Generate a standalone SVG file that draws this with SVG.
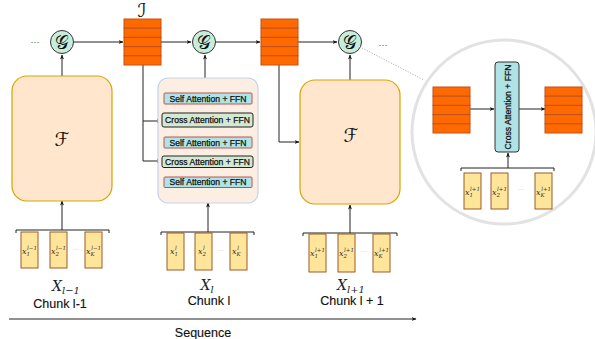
<svg xmlns="http://www.w3.org/2000/svg" width="595" height="339" viewBox="0 0 595 339">
<defs>
<marker id="ah" viewBox="0 0 10 10" refX="9" refY="5" markerWidth="5" markerHeight="5" orient="auto-start-reverse"><path d="M0,1 L10,5 L0,9 L3,5 Z" fill="#111"/></marker>
<style>
.ln{fill:none;stroke:#222;stroke-width:1}
.st{fill:#ff6a00;stroke:#c4501a;stroke-width:1}
.g{fill:#c8eedb;stroke:#333;stroke-width:1}
.gt{font-family:"DejaVu Sans",serif;font-size:19px;text-anchor:middle;fill:#111}
.fb{fill:#ffe6cc;stroke:#d9a400;stroke-width:1.2}
.sa{fill:#b0e3e6;stroke:#b85450;stroke-width:1}
.ca{fill:#d5e8d4;stroke:#222;stroke-width:1}
.bt{font-family:"Liberation Sans",Arial,sans-serif;font-size:8.6px;text-anchor:middle;fill:#111;stroke:#111;stroke-width:0.25}
.tk{fill:#ffe599;stroke:#9c5a2a;stroke-width:1}
.tx{font-family:"DejaVu Serif",serif;font-style:italic;font-size:8px;fill:#333}
.lab{font-family:"Liberation Sans",Arial,sans-serif;font-size:12.5px;text-anchor:middle;fill:#111;stroke:#111;stroke-width:0.15}
.xl{font-family:"DejaVu Serif",serif;font-style:italic;font-size:14px;text-anchor:middle;fill:#222}
.dots{font-family:"Liberation Sans",sans-serif;font-size:9px;fill:#444;text-anchor:middle}
.sdots{font-family:"Liberation Sans",sans-serif;font-size:6px;fill:#999;text-anchor:middle}
</style>
<g id="stack">
<rect x="0" y="0" width="37" height="9.2" class="st"/>
<rect x="0" y="9.2" width="37" height="9.2" class="st"/>
<rect x="0" y="18.4" width="37" height="9.2" class="st"/>
<rect x="0" y="27.6" width="37" height="9.2" class="st"/>
<rect x="0" y="36.8" width="37" height="9.2" class="st"/>
</g>
</defs>

<g id="connectors">
<line x1="74" y1="42" x2="123" y2="42" class="ln" marker-end="url(#ah)"/>
<line x1="161" y1="42" x2="191" y2="42" class="ln" marker-end="url(#ah)"/>
<line x1="216" y1="42" x2="260" y2="42" class="ln" marker-end="url(#ah)"/>
<line x1="298" y1="42" x2="337" y2="42" class="ln" marker-end="url(#ah)"/>
<line x1="62" y1="76" x2="62" y2="55" class="ln" marker-end="url(#ah)"/>
<line x1="205" y1="78" x2="205" y2="55" class="ln" marker-end="url(#ah)"/>
<line x1="350" y1="80" x2="350" y2="55" class="ln" marker-end="url(#ah)"/>
<path d="M143,65 V121 H161" class="ln" stroke="#555" marker-end="url(#ah)"/>
<path d="M143,121 V161 H161" class="ln" stroke="#555" marker-end="url(#ah)"/>
<path d="M279,65 V142 H299" class="ln" stroke="#555" marker-end="url(#ah)"/>
<line x1="208" y1="177" x2="208" y2="168" class="ln" marker-end="url(#ah)"/>
<line x1="208" y1="156" x2="208" y2="149" class="ln" marker-end="url(#ah)"/>
<line x1="208" y1="137" x2="208" y2="128" class="ln" marker-end="url(#ah)"/>
<line x1="208" y1="113" x2="208" y2="105" class="ln" marker-end="url(#ah)"/>
<line x1="62" y1="230" x2="62" y2="201" class="ln" marker-end="url(#ah)"/>
<line x1="208" y1="232" x2="208" y2="203" class="ln" marker-end="url(#ah)"/>
<line x1="350" y1="233" x2="350" y2="205" class="ln" marker-end="url(#ah)"/>
<line x1="362" y1="48" x2="424" y2="80" stroke="#999" stroke-width="0.8" stroke-dasharray="1.2,1.5"/>
<line x1="9" y1="319" x2="416" y2="319" class="ln" marker-end="url(#ah)"/>
<line x1="470" y1="109" x2="494" y2="109" class="ln" marker-end="url(#ah)"/>
<line x1="519" y1="109" x2="545" y2="109" class="ln" marker-end="url(#ah)"/>
<line x1="508" y1="168" x2="508" y2="153" class="ln" marker-end="url(#ah)"/>
</g>

<text x="35" y="45" class="dots">···</text>
<text x="383" y="48" class="dots">···</text>

<g id="g1"><circle cx="62" cy="42" r="11.5" class="g"/><text x="62" y="48.5" class="gt">𝒢</text></g>
<g id="g2"><circle cx="204" cy="42" r="11.5" class="g"/><text x="204" y="48.5" class="gt">𝒢</text></g>
<g id="g3"><circle cx="350" cy="42" r="11.5" class="g"/><text x="350" y="48.5" class="gt">𝒢</text></g>

<g id="I1"><use href="#stack" x="124" y="19"/><text x="142" y="16.5" class="gt" font-size="14">ℐ</text></g>
<g id="I2"><use href="#stack" x="261" y="19"/></g>

<g id="F1"><rect x="12" y="76" width="100" height="125" rx="15" class="fb"/><text x="62" y="146" class="gt" font-size="26">ℱ</text></g>
<g id="F2"><rect x="300" y="80" width="100" height="124" rx="15" class="fb"/><text x="351" y="142" class="gt" font-size="26">ℱ</text></g>

<g id="block">
<rect x="158" y="78" width="100" height="125" rx="10" fill="#fdeee3" stroke="#c5d3e8" stroke-width="1.2"/>
<rect x="164" y="93" width="88" height="11" rx="1" class="sa"/><text x="208" y="101.6" class="bt">Self Attention + FFN</text>
<rect x="162" y="113" width="91" height="14" rx="2" class="ca"/><text x="207.5" y="123.2" class="bt">Cross Attention + FFN</text>
<rect x="164" y="137" width="88" height="11" rx="1" class="sa"/><text x="208" y="145.6" class="bt">Self Attention + FFN</text>
<rect x="162" y="156" width="91" height="11.5" rx="2" class="ca"/><text x="207.5" y="164.8" class="bt">Cross Attention + FFN</text>
<rect x="164" y="177" width="88" height="10.5" rx="1" class="sa"/><text x="208" y="185.3" class="bt">Self Attention + FFN</text>
</g>

<g id="chunk1">
<path d="M16,233 V230 H109 V233" class="ln" stroke-width="0.8"/>
<rect x="21" y="232" width="17" height="36" class="tk"/><text x="22" y="254" class="tx">x<tspan font-size="5.5" dy="2">1</tspan><tspan font-size="5.5" dx="-3" dy="-6.5">l−1</tspan></text>
<rect x="50" y="232" width="17" height="36" class="tk"/><text x="51" y="254" class="tx">x<tspan font-size="5.5" dy="2">2</tspan><tspan font-size="5.5" dx="-3" dy="-6.5">l−1</tspan></text>
<text x="76" y="251" class="sdots">···</text>
<rect x="85" y="232" width="17" height="36" class="tk"/><text x="86" y="254" class="tx">x<tspan font-size="5.5" dy="2">K</tspan><tspan font-size="5.5" dx="-3.5" dy="-6.5">l−1</tspan></text>
<text x="66" y="291" class="xl">X<tspan font-size="10" dy="3">l−1</tspan></text>
<text x="60" y="308" class="lab">Chunk l-1</text>
</g>

<g id="chunk2">
<path d="M161,235 V232 H254 V235" class="ln" stroke-width="0.8"/>
<rect x="167" y="233" width="17" height="37" class="tk"/><text x="170" y="254" class="tx">x<tspan font-size="5.5" dy="2">1</tspan><tspan font-size="5.5" dx="-3" dy="-6.5">l</tspan></text>
<rect x="195" y="233" width="17" height="37" class="tk"/><text x="198" y="254" class="tx">x<tspan font-size="5.5" dy="2">2</tspan><tspan font-size="5.5" dx="-3" dy="-6.5">l</tspan></text>
<text x="221" y="252" class="sdots">···</text>
<rect x="230" y="233" width="17" height="37" class="tk"/><text x="232" y="254" class="tx">x<tspan font-size="5.5" dy="2">K</tspan><tspan font-size="5.5" dx="-3.5" dy="-6.5">l</tspan></text>
<text x="207" y="290" class="xl">X<tspan font-size="10" dy="3">l</tspan></text>
<text x="209" y="305" class="lab">Chunk l</text>
</g>

<g id="chunk3">
<path d="M303,236 V233 H397 V236" class="ln" stroke-width="0.8"/>
<rect x="309" y="234" width="17" height="38" class="tk"/><text x="310" y="256" class="tx">x<tspan font-size="5.5" dy="2">1</tspan><tspan font-size="5.5" dx="-3" dy="-6.5">l+1</tspan></text>
<rect x="338" y="234" width="17" height="38" class="tk"/><text x="339" y="256" class="tx">x<tspan font-size="5.5" dy="2">2</tspan><tspan font-size="5.5" dx="-3" dy="-6.5">l+1</tspan></text>
<text x="364" y="253" class="sdots">···</text>
<rect x="373" y="234" width="17" height="38" class="tk"/><text x="374" y="256" class="tx">x<tspan font-size="5.5" dy="2">K</tspan><tspan font-size="5.5" dx="-3.5" dy="-6.5">l+1</tspan></text>
<text x="351" y="290" class="xl">X<tspan font-size="10" dy="3">l+1</tspan></text>
<text x="352" y="305" class="lab">Chunk l + 1</text>
</g>

<text x="203" y="337" class="lab">Sequence</text>

<g id="zoom">
<circle cx="504" cy="132" r="92" fill="none" stroke="#e2e2e2" stroke-width="3"/>
<use href="#stack" x="433" y="87"/>
<use href="#stack" x="545" y="87"/>
<rect x="495" y="62" width="24" height="90" rx="3" fill="#b0e3e6" stroke="#333" stroke-width="1"/>
<text x="0" y="0" class="bt" stroke-width="0" font-size="9" transform="translate(510.5,107) rotate(-90)">Cross Attention + FFN</text>
<path d="M461,171 V168 H554 V171" class="ln" stroke-width="0.8"/>
<rect x="464" y="173" width="17" height="36" class="tk"/><text x="465" y="195" class="tx">x<tspan font-size="5.5" dy="2">1</tspan><tspan font-size="5.5" dx="-3" dy="-6.5">l+1</tspan></text>
<rect x="491" y="173" width="17" height="36" class="tk"/><text x="492" y="195" class="tx">x<tspan font-size="5.5" dy="2">2</tspan><tspan font-size="5.5" dx="-3" dy="-6.5">l+1</tspan></text>
<text x="521" y="191" class="sdots">···</text>
<rect x="535" y="173" width="17" height="36" class="tk"/><text x="536" y="195" class="tx">x<tspan font-size="5.5" dy="2">K</tspan><tspan font-size="5.5" dx="-3.5" dy="-6.5">l+1</tspan></text>
</g>
</svg>
